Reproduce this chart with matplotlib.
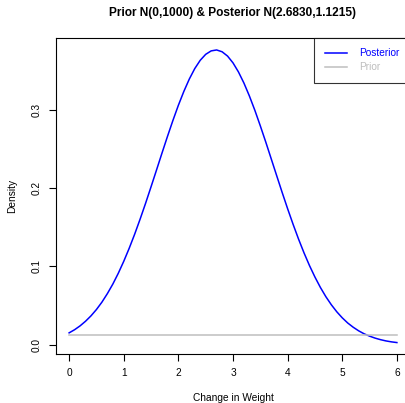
import matplotlib
matplotlib.use('Agg')
import matplotlib.pyplot as plt

plt.rcParams['font.family'] = ['Liberation Sans', 'DejaVu Sans']

# posterior density, every 0.1
x_post = [0.0, 0.1, 0.2, 0.3, 0.4, 0.5, 0.6, 0.7, 0.8, 0.9,
          1.0, 1.1, 1.2, 1.3, 1.4, 1.5, 1.6, 1.7, 1.8, 1.9,
          2.0, 2.1, 2.2, 2.3, 2.4, 2.5, 2.6, 2.7, 2.8, 2.9,
          3.0, 3.1, 3.2, 3.3, 3.4, 3.5, 3.6, 3.7, 3.8, 3.9,
          4.0, 4.1, 4.2, 4.3, 4.4, 4.5, 4.6, 4.7, 4.8, 4.9,
          5.0, 5.1, 5.2, 5.3, 5.4, 5.5, 5.6, 5.7, 5.8, 5.9, 6.0]
y_post = [0.0152, 0.0192, 0.0241, 0.0300, 0.0369, 0.0450, 0.0544, 0.0653, 0.0775, 0.0913,
          0.1066, 0.1233, 0.1413, 0.1606, 0.1808, 0.2019, 0.2233, 0.2449, 0.2661, 0.2866,
          0.3060, 0.3237, 0.3395, 0.3529, 0.3635, 0.3711, 0.3755, 0.3767, 0.3744, 0.3689,
          0.3602, 0.3486, 0.3344, 0.3179, 0.2996, 0.2797, 0.2590, 0.2375, 0.2160, 0.1946,
          0.1738, 0.1539, 0.1350, 0.1174, 0.1012, 0.0865, 0.0732, 0.0614, 0.0511, 0.0421,
          0.0344, 0.0278, 0.0224, 0.0178, 0.0140, 0.0110, 0.0085, 0.0065, 0.0049, 0.0037, 0.0028]
# prior is flat over this range
x_prior = [0.0, 6.0]
y_prior = [0.0126, 0.0126]

xticks = [0, 1, 2, 3, 4, 5, 6]
yticks = [0.0, 0.1, 0.2, 0.3]
ytick_labels = ['0.0', '0.1', '0.2', '0.3']

fig = plt.figure(figsize=(4.06, 4.03), dpi=100)
ax = fig.add_axes([56/406, (403-354.3)/403, (410-56)/406, (354.3-38.3)/403])

ax.plot(x_post, y_post, color='#0000ff', lw=1.1, label='Posterior')
ax.plot(x_prior, y_prior, color='#bebebe', lw=1.1, label='Prior')

ax.set_xlim(-0.24, 6.24)
ax.set_ylim(-0.0122, 0.3916)
ax.set_xticks(xticks)
ax.set_yticks(yticks)
ax.set_yticklabels(ytick_labels, rotation=90, va='center')
ax.tick_params(direction='out', length=5, width=0.8, labelsize=7.3, pad=5)
for s in ax.spines.values():
  s.set_linewidth(0.8)

ax.set_xlabel('Change in Weight', fontsize=7.3, labelpad=11)
ax.set_ylabel('Density', fontsize=7.3, labelpad=11)
fig.text(233/406, 1-13/403, 'Prior N(0,1000) & Posterior N(2.6830,1.1215)',
         ha='center', va='center', fontsize=8.6, fontweight='bold')

leg = ax.legend(loc='upper right', bbox_to_anchor=(1, 1), borderaxespad=0,
                fancybox=False, edgecolor='black', fontsize=7.3,
                handlelength=2.2, handletextpad=1.25, borderpad=1.0, labelspacing=0.4)
leg.get_frame().set_linewidth(0.8)
leg.get_texts()[0].set_color('#0000ff')
leg.get_texts()[1].set_color('#bebebe')

plt.savefig('out.png', dpi=100)
